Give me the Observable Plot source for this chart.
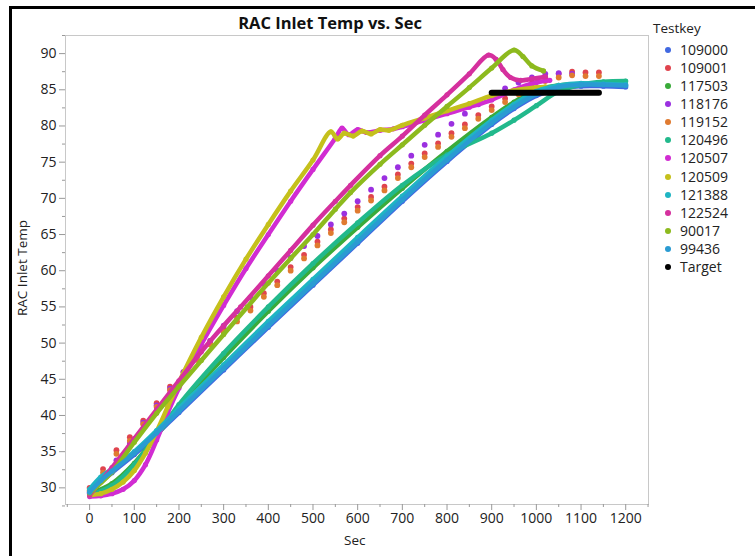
<!DOCTYPE html>
<html><head><meta charset="utf-8">
<script src="https://cdn.jsdelivr.net/npm/d3@7"></script>
<script src="https://cdn.jsdelivr.net/npm/@observablehq/plot@0.6"></script>
<style>
body{margin:0;background:#fff;}
#wrap{position:relative;width:755px;height:556px;overflow:hidden;background:#fff;font-family:'Open Sans',sans-serif;}
#chart{position:absolute;left:0;top:0;}
#border{position:absolute;left:9px;top:6px;width:800px;height:600px;border:3px solid #000;box-sizing:border-box;pointer-events:none;}
#title{position:absolute;left:38px;width:584px;top:11px;text-align:center;font-weight:bold;font-size:16.5px;color:#111;}
.lab{position:absolute;font-size:13.5px;color:#222;white-space:nowrap;}
#legend .item{position:absolute;left:0;height:18px;line-height:18px;font-size:14px;color:#222;white-space:nowrap;}
#legend .dot{position:absolute;left:12px;top:6px;width:6px;height:6px;border-radius:50%;}
#legend .txt{position:absolute;left:27px;top:0;}
</style></head>
<body>
<div id="wrap">
  <div id="chart"></div>
  <div id="title">RAC Inlet Temp vs. Sec</div>
  <div class="lab" id="xlab" style="left:344px;top:531px;">Sec</div>
  <div class="lab" id="ylab" style="left:22px;top:268px;transform:translate(-50%,-50%) rotate(-90deg);">RAC Inlet Temp</div>
  <div id="legend" style="position:absolute;left:653px;top:0;"></div>
  <div id="border"></div>
</div>
<script>
// Legend keys and colours
const keys = ["109000","109001","117503","118176","119152","120496","120507","120509","121388","122524","90017","99436","Target"];
const colors = ["#4169e1","#e0444e","#3aab3a","#9b30e0","#e07b30","#22b98c","#d12cd2","#c5c01c","#1fb5c3","#d5309e","#8dba1e","#2a9bd2","#000000"];

// x ticks and y ticks
const xTicks = [0,100,200,300,400,500,600,700,800,900,1000,1100,1200];
const xMinor = [-50,50,150,250,350,450,550,650,750,850,950,1050,1150,1250];
const yTicks = [30,35,40,45,50,55,60,65,70,75,80,85,90];
const yMinor = [27.5,32.5,37.5,42.5,47.5,52.5,57.5,62.5,67.5,72.5,77.5,82.5,87.5,92.5];

// Series (Sec, Temp)
const s109000 = [[0,29.2],[25,30.8],[50,32.1],[100,34.6],[150,37.4],[200,40.4],[300,46.3],[400,52.2],[500,58],[600,63.8],[700,69.6],[800,75.1],[900,80.2],[950,82.4],[1000,84.2],[1050,85.2],[1100,85.5],[1150,85.5],[1200,85.4]];
const s109001 = [[0,30],[30,32.6],[60,35.2],[90,37],[120,39.3],[150,41.7],[180,44],[210,46],[240,48.2],[270,50.3],[300,52],[330,53.5],[360,55],[390,56.9],[420,58.5],[450,60.5],[480,62.2],[510,64],[540,65.7],[570,67.2],[600,68.8],[630,70.2],[660,71.6],[690,73.3],[720,74.8],[750,76.2],[780,77.6],[810,79],[840,80.2],[870,81.5],[900,82.7],[930,83.8],[960,84.9],[990,85.9],[1020,86.7],[1050,87.2],[1080,87.5],[1110,87.4],[1140,87.4]];
const s117503 = [[0,29.2],[50,30.6],[100,33.4],[150,37.2],[200,41.2],[300,48],[400,54.4],[500,60.4],[600,66],[700,71.4],[800,76.5],[900,81.2],[950,83.3],[1000,85],[1050,85.6],[1100,85.8]];
const s118176 = [[0,29.3],[30,31.5],[60,33.8],[90,36.2],[120,39],[150,41.4],[180,43.7],[210,46],[240,48.2],[270,50.3],[300,52.4],[330,54.4],[360,56.3],[390,58.2],[420,60],[450,61.8],[480,63.4],[510,64.8],[540,66.4],[570,67.9],[600,69.6],[630,71.2],[660,72.8],[690,74.3],[720,75.9],[750,77.4],[780,78.8],[810,80.3],[840,81.7],[870,83],[900,84.2],[930,85.2],[960,86],[990,86.7],[1020,87.2],[1050,87.3],[1080,87.2]];
const s119152 = [[0,29.6],[30,32.1],[60,34.7],[90,36.5],[120,38.8],[150,41.2],[180,43.5],[210,45.5],[240,47.7],[270,49.8],[300,51.5],[330,53],[360,54.5],[390,56.4],[420,58],[450,60],[480,61.7],[510,63.5],[540,65.2],[570,66.7],[600,68.3],[630,69.7],[660,71.1],[690,72.8],[720,74.3],[750,75.7],[780,77.1],[810,78.5],[840,79.7],[870,81],[900,82.2],[930,83.3],[960,84.4],[990,85.4],[1020,86.2],[1050,86.7],[1080,87],[1110,86.9],[1140,86.9]];
const s120496 = [[0,29],[50,30.3],[100,33.2],[150,37.3],[200,41.5],[300,48.6],[400,55],[500,61],[600,66.6],[700,71.8],[800,76],[900,79],[950,80.8],[1000,82.8],[1050,84.8],[1100,85.7],[1150,86.1],[1200,86.2]];
const s120507 = [[0,28.8],[25,28.9],[50,29.2],[75,29.8],[100,31],[125,33.2],[150,36.6],[175,40.4],[200,43.8],[250,49.8],[300,55.2],[350,60.3],[400,65],[450,69.6],[500,74],[550,78.3],[565,79.7],[580,78.8],[600,79.5],[620,79.1],[650,79.4],[680,79.6],[700,79.9],[750,80.8],[800,81.7],[850,82.6],[900,83.6],[950,85],[1000,86],[1030,86.3]];
const s120509 = [[0,29],[25,29.2],[50,29.8],[75,30.8],[100,32.4],[125,34.8],[150,37.8],[175,41.2],[200,44.6],[250,50.8],[300,56.4],[350,61.6],[400,66.4],[450,71],[500,75.3],[540,79.2],[555,78.2],[570,79],[590,78.6],[610,79.3],[630,78.9],[650,79.5],[670,79.4],[700,80.1],[750,81.1],[800,82.1],[850,83.1],[900,84.2],[950,84.9],[1000,85.3],[1020,85.4]];
const s121388 = [[0,29.8],[25,31.5],[50,32.6],[100,35],[150,37.9],[200,41],[300,47],[400,53],[500,58.8],[600,64.6],[700,70.3],[800,75.8],[900,80.8],[950,83],[1000,84.8],[1050,85.6],[1100,85.9],[1150,85.8],[1200,85.7]];
const s122524 = [[0,29],[50,32.8],[100,36.8],[150,40.8],[200,44.8],[250,48.8],[300,52.4],[338,55],[400,59.3],[450,62.8],[500,66.3],[550,69.6],[584,71.8],[650,75.9],[700,78.6],[750,81.5],[800,84.3],[850,87.2],[893,89.8],[910,89.2],[925,87.8],[942,86.7],[965,86.3],[990,86.5],[1020,86.8]];
const s90017 = [[0,29.3],[50,32.2],[100,36.3],[150,40.3],[200,44],[250,47.6],[300,51.2],[353,55],[400,58.3],[450,61.7],[500,65],[550,68.5],[584,70.8],[650,74.7],[700,77.4],[750,80.1],[800,82.7],[850,85.3],[900,88],[950,90.5],[970,89.6],[990,88.3],[1016,87.6]];
const s99436 = [[0,29.4],[25,31],[50,32.3],[100,34.8],[150,37.6],[200,40.6],[300,46.5],[400,52.4],[500,58.2],[600,64],[700,69.8],[800,75.3],[900,80.4],[950,82.6],[1000,84.4],[1050,85.4],[1100,85.7],[1150,85.7],[1200,85.6]];
const sTarget = [[900,84.6],[1140,84.6]];

const series = [s109000,s109001,s117503,s118176,s119152,s120496,s120507,s120509,s121388,s122524,s90017,s99436,sTarget];
const dotted = new Set(["109001","118176","119152"]);

const fmt = d3.format("d");
const marks = [
  Plot.frame({stroke:"#c8c8c8"}),
  Plot.axisX(xTicks,{tickSize:6,tickPadding:3,stroke:"#999",fill:"#222",fontSize:14,tickFormat:fmt,label:null}),
  Plot.axisX(xMinor,{tickSize:3,stroke:"#999",tickFormat:()=>"",label:null}),
  Plot.axisY(yTicks,{tickSize:6,tickPadding:3,stroke:"#999",fill:"#222",fontSize:14,tickFormat:fmt,label:null}),
  Plot.axisY(yMinor,{tickSize:3,stroke:"#999",tickFormat:()=>"",label:null})
];
keys.forEach((k,i)=>{
  const data = series[i];
  if (dotted.has(k)) {
    marks.push(Plot.dot(data,{x:d=>d[0],y:d=>d[1],r:2.9,fill:colors[i],stroke:"none"}));
  } else if (k === "Target") {
    marks.push(Plot.line(data,{x:d=>d[0],y:d=>d[1],stroke:colors[i],strokeWidth:6,strokeLinecap:"round"}));
  } else {
    marks.push(Plot.line(data,{x:d=>d[0],y:d=>d[1],stroke:colors[i],strokeWidth:4.5,strokeLinecap:"round",strokeLinejoin:"round",curve:"catmull-rom"}));
    marks.push(Plot.dot(data,{x:d=>d[0],y:d=>d[1],r:2.6,fill:colors[i],stroke:"none"}));
  }
});

const plot = Plot.plot({
  width:755, height:556,
  marginLeft:65, marginRight:107, marginTop:35, marginBottom:52,
  x:{domain:[-54,1251], label:null},
  y:{domain:[27.7,92.5], label:null},
  style:{fontFamily:"'Open Sans', sans-serif", fontSize:"14px", background:"transparent", color:"#222"},
  marks
});
document.getElementById("chart").appendChild(plot);

// Legend
const leg = document.getElementById("legend");
const head = document.createElement("div");
head.className = "item"; head.style.top = "19px"; head.style.left = "0px"; head.style.fontSize = "13.5px"; head.textContent = "Testkey";
leg.appendChild(head);
keys.forEach((k,i)=>{
  const it = document.createElement("div");
  it.className = "item";
  it.style.top = (41 + i*18.08) + "px";
  it.innerHTML = `<span class="dot" style="background:${colors[i]}"></span><span class="txt">${k}</span>`;
  leg.appendChild(it);
});
</script>
</body></html>
